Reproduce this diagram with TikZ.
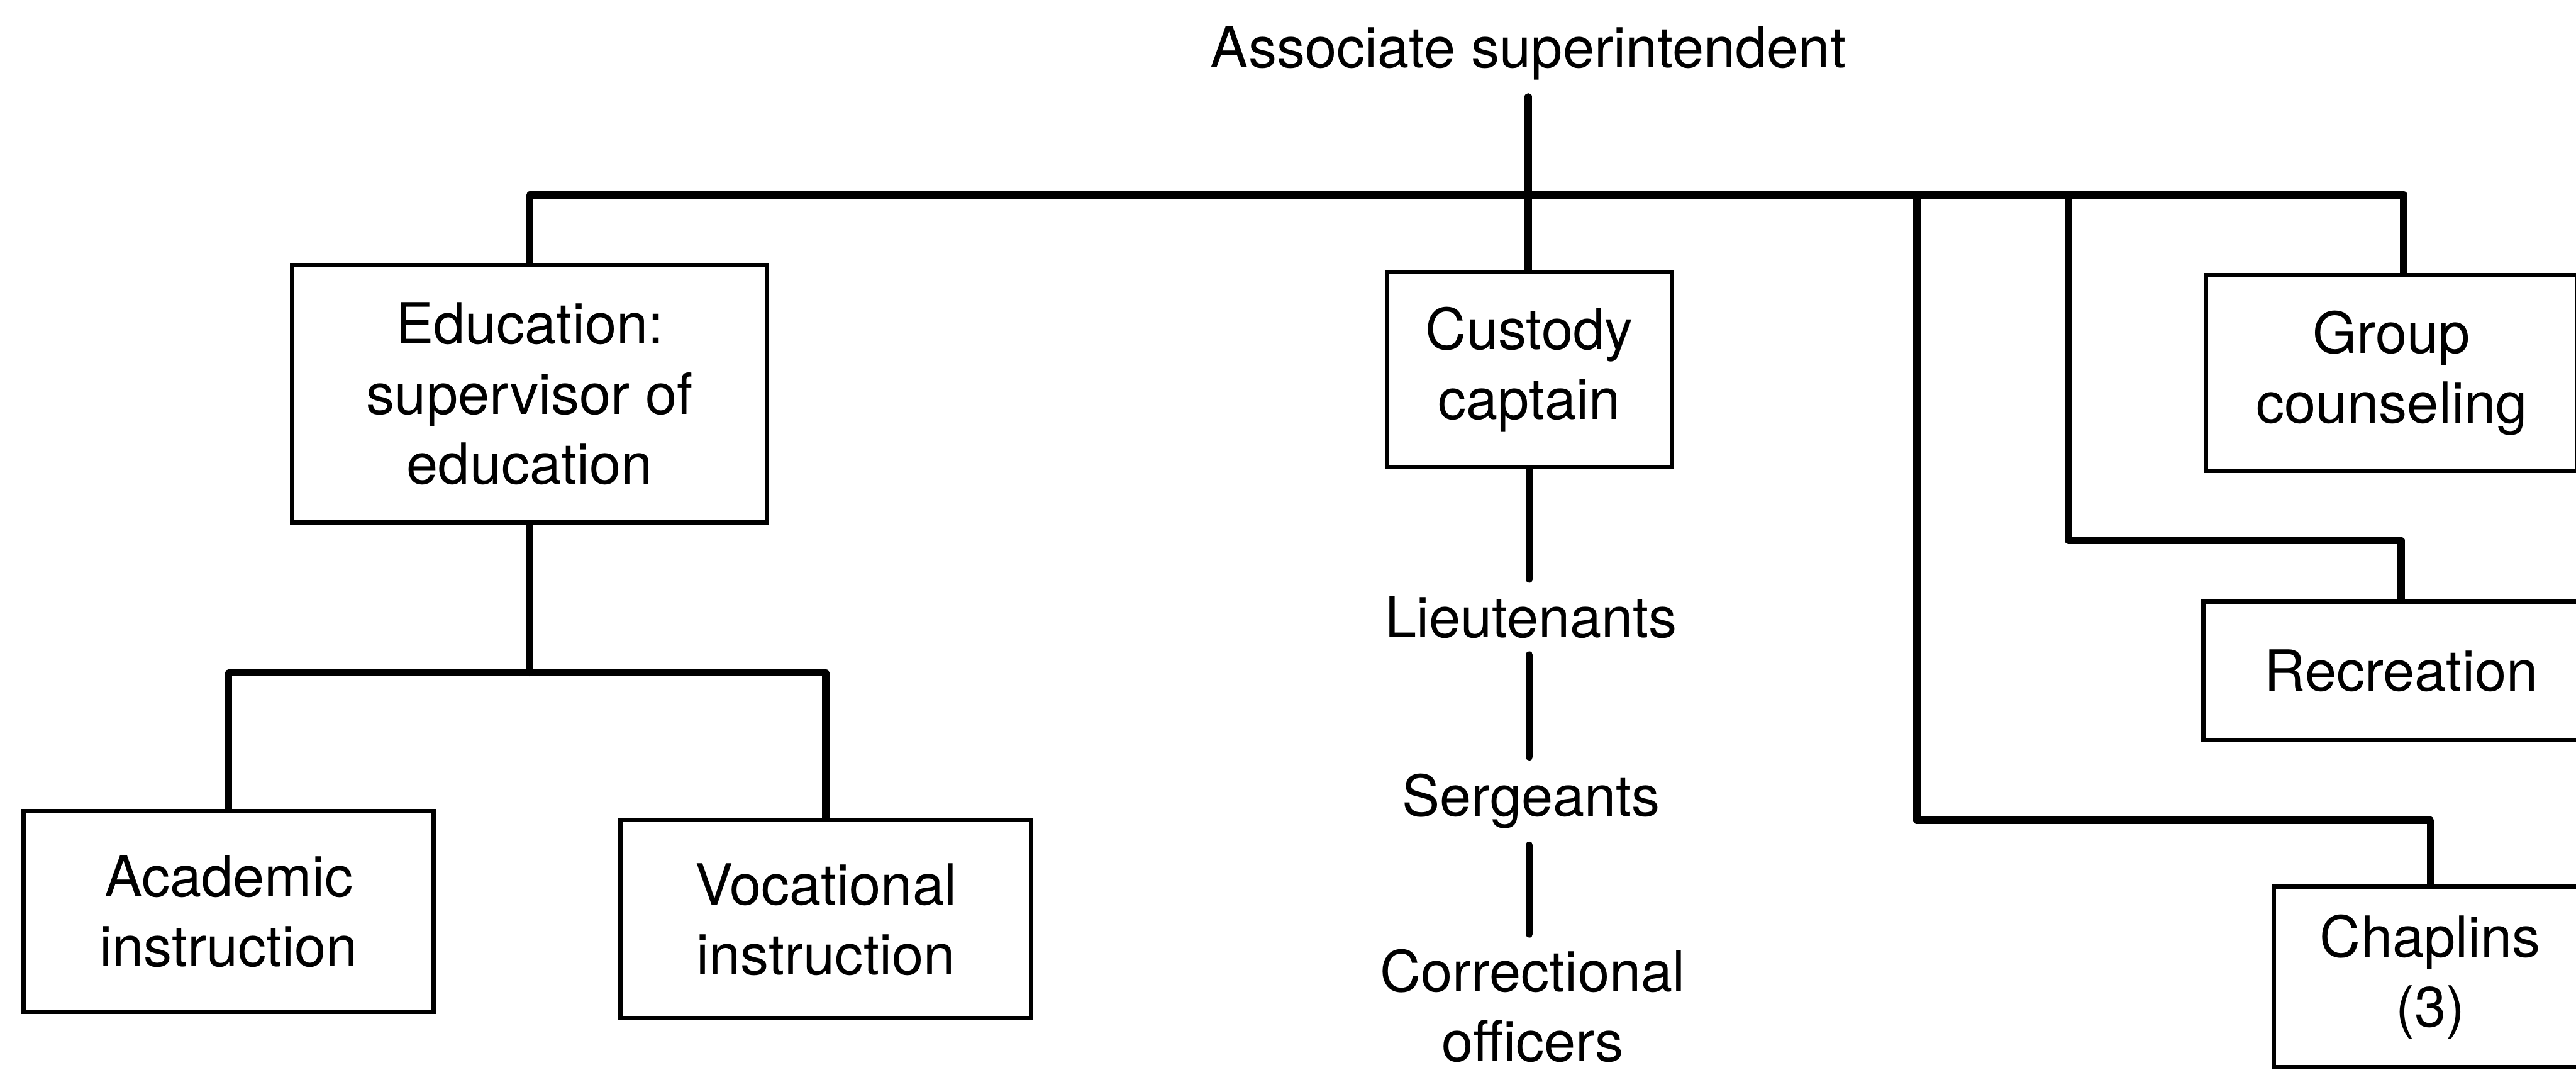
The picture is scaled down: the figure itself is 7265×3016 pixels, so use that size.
\documentclass[tikz,border=0pt]{standalone}
\usepackage{fontspec}
\setmainfont{TeX Gyre Heros}

\begin{document}
\begin{tikzpicture}[x=0.1pt,y=0.1pt,yscale=-1,xscale=1,
  unit/.style={draw,line width=1.2pt,inner sep=0pt,align=center,font=\fontsize{16}{19.7}\selectfont},
  rank/.style={inner sep=4.5pt,align=center,font=\fontsize{16}{19.7}\selectfont},
  link/.style={line width=2pt,line cap=round,line join=round}]
%set diagram to the size of the page and cut off what runs over the right edge
\useasboundingbox (0,0) rectangle (7265,3016);
\clip (0,0) rectangle (7265,3016);

% Text Node
\node (top) at (4310,191) [rank,anchor=base] {Associate superintendent};

%Shape: Rectangle
\node (edu) at (1494,1110) [unit,minimum width=133.9pt,minimum height=72.5pt] {Education:\\supervisor of\\education};
%Shape: Rectangle
\node (acad) at (645,2570) [unit,minimum width=115.7pt,minimum height=56.7pt] {Academic\\instruction};
%Shape: Rectangle
\node (voc) at (2329,2592) [unit,minimum width=115.8pt,minimum height=55.8pt] {Vocational\\instruction};
%Shape: Rectangle
\node (cust) at (4313,1042) [unit,minimum width=80.3pt,minimum height=55pt] {Custody\\captain};
%Shape: Rectangle
\node (grp) at (6745,1052) [unit,minimum width=104.9pt,minimum height=55.1pt] {Group\\counseling};
%Shape: Rectangle
\node (rec) at (6772,1892) [unit,minimum width=111.5pt,minimum height=39.1pt] {Recreation};
%Shape: Rectangle
\node (chap) at (6854,2754) [unit,minimum width=88.2pt,minimum height=50.8pt] {Chaplins\\(3)};

% Text Node
\node (lieut) at (4318,1797) [rank,anchor=base] {Lieutenants};
% Text Node
\node (serg) at (4318,2301) [rank,anchor=base] {Sergeants};
% Text Node
\node (corr) at (4322,2675) [rank,inner ysep=0pt,anchor=north] {Correctional\\officers};

% bends of the lines
\coordinate (bar) at (0,550);
\coordinate (subbar) at (0,1897);
\coordinate (grpin) at (6779,0);
\coordinate (recbend) at (5833,1524);
\coordinate (chapbend) at (5406,2313);

%Straight Lines
\draw [link] (top.south) -- (top.south |- cust.north);
\draw [link] (edu.north) |- (bar -| grpin) -- (grpin |- grp.north);
\draw [link] (bar -| recbend) -- (recbend) -| (rec.north);
\draw [link] (bar -| chapbend) -- (chapbend) -| (chap.north);
\draw [link] (edu.south) -- (edu.south |- subbar);
\draw [link] (acad.north) |- (subbar -| voc.north) -- (voc.north);
\draw [link] (cust.south) -- (cust.south |- lieut.north);
\draw [link] (cust.south |- lieut.south) -- (cust.south |- serg.north);
\draw [link,shorten >=4.1pt] (cust.south |- serg.south) -- (cust.south |- corr.north);

\end{tikzpicture}
\end{document}
